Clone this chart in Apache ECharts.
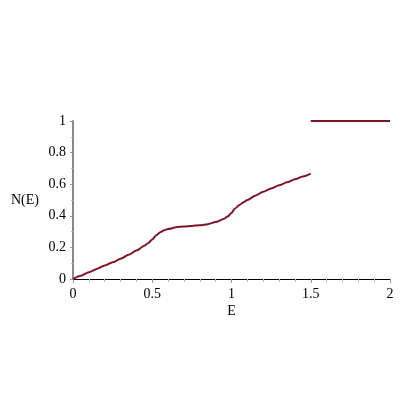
<!DOCTYPE html>
<html>
<head>
<meta charset="utf-8">
<script src="https://cdn.jsdelivr.net/npm/echarts@6/dist/echarts.min.js"></script>
<style>
html, body { margin: 0; padding: 0; background: #fff; }
#chart { width: 400px; height: 400px; }
</style>
</head>
<body>
<div id="chart"></div>
<script>
// energy values and the counted states N(E)
var energies = [0, 0.05, 0.1, 0.15, 0.2, 0.25, 0.3, 0.35, 0.4, 0.45, 0.475, 0.5, 0.525, 0.55, 0.575, 0.6, 0.65, 0.7, 0.75,
    0.8, 0.85, 0.9, 0.95, 0.975, 1.0, 1.02, 1.05, 1.075, 1.1, 1.15, 1.2, 1.25, 1.3, 1.35, 1.4, 1.45, 1.5];
var counts = [0, 0.021, 0.043, 0.064, 0.085, 0.106, 0.128, 0.153, 0.18, 0.21, 0.228, 0.25, 0.277, 0.296, 0.308, 0.316, 0.327, 0.333, 0.336,
    0.34, 0.347, 0.36, 0.38, 0.395, 0.418, 0.445, 0.468, 0.486, 0.5, 0.527, 0.552, 0.573, 0.593, 0.612, 0.631, 0.649, 0.667];
var upperE = [1.5, 2];
var upperN = [1, 1];

var lineColor = '#7d1526';
var font = '"Liberation Serif", "Times New Roman", serif';

function pairs(xs, ys){
    var out = [];
    for(let i = 0; i < xs.length; i++){
        out.push([xs[i], ys[i]]);
    }
    return out;
}

var chart = echarts.init(document.getElementById('chart'));
chart.setOption({
    animation: false,
    grid: {
        left: 73,
        top: 121,
        width: 317,
        height: 158
    },
    xAxis: {
        type: 'value',
        min: 0,
        max: 2,
        interval: 0.5,
        name: 'E',
        nameLocation: 'middle',
        nameGap: 25,
        nameTextStyle: { color: '#000', fontFamily: font, fontSize: 14 },
        axisLine: { lineStyle: { color: '#000', width: 1 } },
        axisTick: { length: 4, lineStyle: { color: '#999' } },
        minorTick: { show: true, splitNumber: 5, length: 3, lineStyle: { color: '#bbb' } },
        splitLine: { show: false },
        axisLabel: { color: '#000', fontFamily: font, fontSize: 14, margin: 8 }
    },
    yAxis: {
        type: 'value',
        min: 0,
        max: 1,
        interval: 0.2,
        name: 'N(E)',
        nameLocation: 'middle',
        nameRotate: 0,
        nameGap: 34,
        nameTextStyle: { color: '#000', fontFamily: font, fontSize: 14 },
        axisLine: { show: true, onZero: false, lineStyle: { color: '#888', width: 2 } },
        axisTick: { length: 3, lineStyle: { color: '#999' } },
        minorTick: { show: true, splitNumber: 2, length: 2, lineStyle: { color: '#bbb' } },
        splitLine: { show: false },
        axisLabel: { color: '#000', fontFamily: font, fontSize: 14, margin: 7 }
    },
    series: [
        {
            type: 'line',
            data: pairs(energies, counts),
            smooth: 0.25,
            smoothMonotone: 'x',
            showSymbol: false,
            lineStyle: { color: lineColor, width: 2 }
        },
        {
            type: 'line',
            data: pairs(upperE, upperN),
            showSymbol: false,
            lineStyle: { color: lineColor, width: 2 }
        }
    ]
});
</script>
</body>
</html>
